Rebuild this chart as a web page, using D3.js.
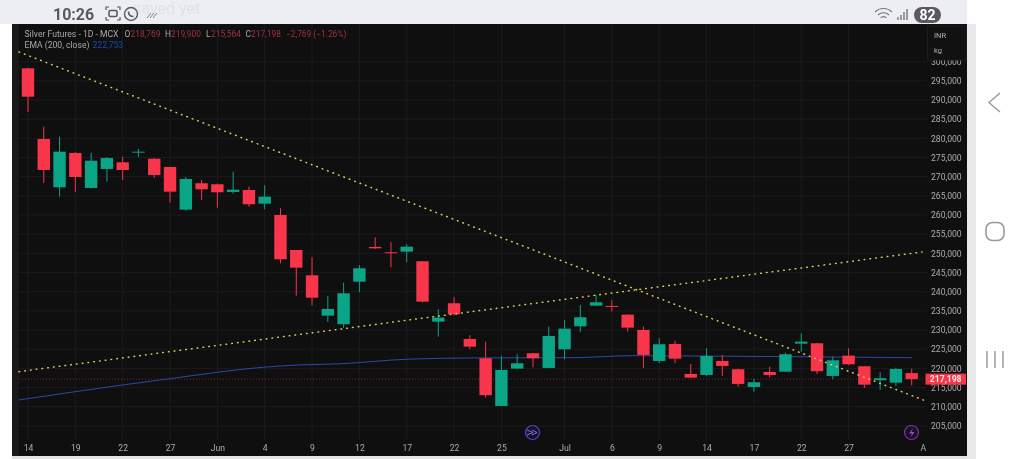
<!DOCTYPE html>
<html>
<head>
<meta charset="utf-8">
<style>
  html, body { margin: 0; padding: 0; background: #fff; overflow: hidden; }
  svg { display: block; font-family: Roboto, sans-serif; filter: blur(0.35px); }
</style>
<script src="https://cdn.jsdelivr.net/npm/d3@7"></script>
</head>
<body>
<div id="chart"></div>
<script>
// Candles, one entry per session
var opens = [298280,279840,267240,276190,267060,272020,273760,276320,274700,272540,261400,268290,268030,266020,266540,262970,260020,250890,244290,233760,231510,242620,251670,250290,250450,247950,232190,236990,227680,222650,210210,219940,223950,220120,224990,230990,236360,236290,234020,230030,221940,226380,218550,218290,221940,219780,215160,219070,219150,226450,226560,218030,223320,220560,216910,216280,218769];
var highs = [298360,283050,280440,276450,276270,275150,275220,277230,274890,272540,269930,269150,268230,271310,267400,267770,261770,250900,248990,238900,242360,246980,254200,252900,252380,248020,235430,238560,228650,226980,223320,223690,224030,230890,232630,236550,239160,237850,234070,230890,227860,227240,221160,225250,223510,219940,217250,220460,224110,229170,226640,223060,225250,220640,218990,220200,219900];
var lows = [286880,268370,264790,266020,266930,268700,269150,275150,269670,263230,261140,263930,261920,265570,262180,261510,247420,238970,236470,232110,230550,239860,251150,246380,247680,237200,228280,233810,225070,212370,210130,219800,220300,220040,222390,229430,236280,234800,229580,220120,221340,221340,217510,218030,218030,215240,213940,217690,219070,224370,218550,217170,220900,214900,214380,215420,215564];
var closes = [290870,271760,276530,269930,274180,274890,271760,276530,270450,266100,269410,266720,265940,266620,262810,264790,248470,246280,238450,235500,239600,246120,251330,250030,251750,237410,233240,234120,225670,213000,219600,221340,222650,228460,230370,233340,237250,236030,230630,223510,226300,222540,217590,223250,220640,215950,216390,218290,223690,226980,219260,222120,221080,215760,217430,219860,217198];

// EMA (200, close), read at the bends of the line
var emaIndex = [-0.57, 6, 9, 14.9, 17.2, 19.8, 24, 28.2, 34.5, 38.3, 41.5, 56];
var emaValues = [211770,215680,217330,220300,220900,221210,222390,222730,222800,223320,223250,222800];

// Dotted trend lines, two ends each
var trendDown = { index: [-0.57, 56.84], value: [302530, 211590] };
var trendUp = { index: [-0.57, 56.65], value: [219150, 250370] };

// Tick labels
var yTicks = d3.range(205000, 300001, 5000);
var xTickIndex = [0,3,6,9,12,15,18,21,24,27,30,34,37,40,43,46,49,52,57];
var xTickLabels = ["14","19","22","27","Jun","4","9","12","17","22","25","Jul","6","9","14","17","22","27","Aug"];
var lastPrice = 217198;

var legendOhlc = [
  { x: 124.5, text: "O", color: "#a8a8a8" }, { x: 130.5, text: "218,769", color: "#a5303e" },
  { x: 165, text: "H", color: "#a8a8a8" }, { x: 171, text: "219,900", color: "#a5303e" },
  { x: 206, text: "L", color: "#a8a8a8" }, { x: 211, text: "215,564", color: "#a5303e" },
  { x: 245.5, text: "C", color: "#a8a8a8" }, { x: 251, text: "217,198", color: "#a5303e" },
  { x: 286, text: "\u22122,769 (\u22121.26%)", color: "#a5303e" }
];

var red = "#f8354a", green = "#0aa487";

var svg = d3.select("#chart").append("svg").attr("width", 1024).attr("height", 459);

var x = d3.scaleLinear().domain([0, 56]).range([28, 911.7]);
var y = d3.scaleLinear().domain([205000, 300000]).range([425.9, 61.7]);

// Page around the chart
svg.append("rect").attr("width", 1024).attr("height", 459).attr("fill", "#ffffff");
svg.append("rect").attr("width", 967).attr("height", 24).attr("fill", "#eceef3");
svg.append("rect").attr("x", 967).attr("y", 24).attr("width", 9).attr("height", 435).attr("fill", "#e8e8e8");
svg.append("rect").attr("x", 12).attr("y", 456).attr("width", 955).attr("height", 3).attr("fill", "#e4e4e4");

// Chart pane
svg.append("rect").attr("x", 12).attr("y", 24).attr("width", 955).attr("height", 432).attr("fill", "#0f0f10");
svg.append("rect").attr("x", 12).attr("y", 24).attr("width", 7).attr("height", 432).attr("fill", "#19191a");

var defs = svg.append("defs");
defs.append("clipPath").attr("id", "plot").append("rect")
  .attr("x", 19).attr("y", 24).attr("width", 908).attr("height", 432);

// Grid
var grid = svg.append("g").attr("clip-path", "url(#plot)");
grid.selectAll(".h").data(yTicks).enter().append("line")
  .attr("x1", 19).attr("x2", 928)
  .attr("y1", d => y(d)).attr("y2", d => y(d))
  .attr("stroke", "#1b1b1c");
grid.selectAll(".v").data(xTickIndex).enter().append("line")
  .attr("x1", d => x(d)).attr("x2", d => x(d))
  .attr("y1", 24).attr("y2", 440)
  .attr("stroke", "#1b1b1c");

var plot = svg.append("g").attr("clip-path", "url(#plot)");

// Last price line
plot.append("line")
  .attr("x1", 19).attr("x2", 928)
  .attr("y1", y(lastPrice)).attr("y2", y(lastPrice))
  .attr("stroke", "#7a2630").attr("stroke-width", 1).attr("stroke-dasharray", "1 2");

// EMA line
var emaLine = d3.line().x(d => x(d[0])).y(d => y(d[1])).curve(d3.curveMonotoneX);
plot.append("path").datum(d3.zip(emaIndex, emaValues)).attr("d", emaLine)
  .attr("fill", "none").attr("stroke", "#2a4aa8").attr("stroke-width", 1);

// Wicks and bodies
var idx = d3.range(opens.length);
function candleColor(i) { return closes[i] >= opens[i] ? green : red; }

plot.selectAll(".wick").data(idx).enter().append("line")
  .attr("x1", i => x(i)).attr("x2", i => x(i))
  .attr("y1", i => y(highs[i])).attr("y2", i => y(lows[i]))
  .attr("stroke", candleColor).attr("stroke-width", 1);

plot.selectAll(".body").data(idx).enter().append("rect")
  .attr("x", i => x(i) - 6.2)
  .attr("width", 12.4)
  .attr("y", i => y(Math.max(opens[i], closes[i])))
  .attr("height", i => Math.max(1, Math.abs(y(opens[i]) - y(closes[i]))))
  .attr("fill", candleColor);

// Trend lines
[trendDown, trendUp].forEach(function (t) {
  svg.append("line")
    .attr("x1", x(t.index[0])).attr("y1", y(t.value[0]))
    .attr("x2", x(t.index[1])).attr("y2", y(t.value[1]))
    .attr("stroke", "#dccf55").attr("stroke-width", 1.5)
    .attr("stroke-linecap", "round").attr("stroke-dasharray", "0.6 5.2");
});

// Axes
var yAxis = d3.axisRight(y).tickValues(yTicks).tickSize(0).tickPadding(0).tickFormat(d3.format(","));
var yg = svg.append("g").attr("transform", "translate(931,0)").call(yAxis);
yg.select(".domain").remove();
yg.selectAll("text").attr("fill", "#adadad").attr("font-size", 8.6).attr("font-family", "Roboto, sans-serif");

var xAxis = d3.axisBottom(x).tickValues(xTickIndex).tickSize(0).tickPadding(0)
  .tickFormat((d, i) => xTickLabels[i]);
var xg = svg.append("g").attr("transform", "translate(0,445)").attr("clip-path", "url(#plot-x)").call(xAxis);
defs.append("clipPath").attr("id", "plot-x").append("rect")
  .attr("x", 12).attr("y", -10).attr("width", 914).attr("height", 30);
xg.select(".domain").remove();
xg.selectAll("text").attr("fill", "#adadad").attr("font-size", 8.6).attr("font-family", "Roboto, sans-serif");

// Currency and unit box over the top of the price axis
svg.append("rect").attr("x", 927.5).attr("y", 26).attr("width", 39).attr("height", 34)
  .attr("fill", "#111112").attr("stroke", "#1e1e20");
svg.append("text").attr("x", 934).attr("y", 37.5).attr("font-size", 7.6).attr("fill", "#b0b0b0").text("INR");
svg.append("text").attr("x", 934).attr("y", 53).attr("font-size", 7.6).attr("fill", "#b0b0b0").text("kg");

// Last price tag
svg.append("rect").attr("x", 925.5).attr("y", y(lastPrice) - 5.5).attr("width", 40.5).attr("height", 11)
  .attr("fill", red);
svg.append("text").attr("x", 945.7).attr("y", y(lastPrice) + 3).attr("text-anchor", "middle")
  .attr("font-size", 8.6).attr("font-weight", 700).attr("fill", "#ffe9ec").text("217,198");

// Legend
svg.append("text").attr("x", 24.5).attr("y", 37).attr("font-size", 8.6).attr("fill", "#a8a8a8")
  .text("Silver Futures - 1D - MCX");
svg.append("g").selectAll("text").data(legendOhlc).enter().append("text")
  .attr("x", d => d.x).attr("y", 37).attr("font-size", 8.4).attr("fill", d => d.color).text(d => d.text);
svg.append("text").attr("x", 24.5).attr("y", 47.5).attr("font-size", 8.6).attr("fill", "#a8a8a8").text("EMA (200, close)");
svg.append("text").attr("x", 92.5).attr("y", 47.5).attr("font-size", 8.6).attr("fill", "#1f49b0").text("222,753");

// Badges under the candles
svg.append("circle").attr("cx", 532.5).attr("cy", 432.5).attr("r", 7)
  .attr("fill", "#16122a").attr("stroke", "#5a3fd0").attr("stroke-width", 1.2);
svg.append("path").attr("d", "M527 430l6 2.5l-6 2.5M532 430l5 2.5l-5 2.5").attr("fill", "none").attr("stroke", "#8f80e8").attr("stroke-width", 0.9);
svg.append("circle").attr("cx", 911.5).attr("cy", 432.5).attr("r", 7)
  .attr("fill", "#1b1026").attr("stroke", "#7d349e").attr("stroke-width", 1.2);
svg.append("path").attr("d", "M913 428l-4 5.5h3l-1.5 4l4-5.5h-3z").attr("fill", "#9a4cc0");

// Phone status bar
svg.append("text").attr("x", 133).attr("y", 14).attr("font-size", 16).attr("fill", "#e0e2e7").text("saved yet");
svg.append("text").attr("x", 53).attr("y", 20).attr("font-size", 16).attr("font-weight", 700).attr("fill", "#5a5a5e").text("10:26");
svg.append("path").attr("d", "M106 10v-3h3M117 7h3v3M120 17v3h-3M109 20h-3v-3").attr("fill", "none").attr("stroke", "#5a5a5e").attr("stroke-width", 1.2);
svg.append("rect").attr("x", 109).attr("y", 10.5).attr("width", 8).attr("height", 6).attr("rx", 1.5).attr("fill", "none").attr("stroke", "#5a5a5e").attr("stroke-width", 1.6);
svg.append("circle").attr("cx", 131).attr("cy", 14).attr("r", 6.5).attr("fill", "none").attr("stroke", "#5a5a5e").attr("stroke-width", 1.4);
svg.append("path").attr("d", "M128.5 11.5c0 3 2 5 5 5").attr("fill", "none").attr("stroke", "#5a5a5e").attr("stroke-width", 1.6);
svg.append("path").attr("d", "M147 18l4 -5M150 18l4 -5M153 18l4 -5").attr("fill", "none").attr("stroke", "#77777b").attr("stroke-width", 0.9);
svg.append("path").attr("d", "M875 12a12 12 0 0 1 17 0M878 15a8 8 0 0 1 11 0M880.5 18a4 4 0 0 1 6 0").attr("fill", "none").attr("stroke", "#77777b").attr("stroke-width", 1.1);
svg.append("path").attr("d", "M898 20v-3M901 20v-5M904 20v-8M907 20v-11").attr("fill", "none").attr("stroke", "#77777b").attr("stroke-width", 1.4);
svg.append("rect").attr("x", 914).attr("y", 7).attr("width", 27).attr("height", 16).attr("rx", 8).attr("fill", "#5a5a5e");
svg.append("text").attr("x", 927.5).attr("y", 20).attr("text-anchor", "middle").attr("font-size", 14).attr("font-weight", 700).attr("fill", "#ffffff").text("82");

// Phone navigation buttons
svg.append("path").attr("d", "M1000 93l-11 9.5l11 9.5").attr("fill", "none").attr("stroke", "#9a9a9a").attr("stroke-width", 1.4);
svg.append("rect").attr("x", 986).attr("y", 222.5).attr("width", 18).attr("height", 18).attr("rx", 6.5).attr("fill", "none").attr("stroke", "#9a9a9a").attr("stroke-width", 1.6);
svg.append("path").attr("d", "M987 351v17M995 351v17M1003 351v17").attr("fill", "none").attr("stroke", "#a2a2a2").attr("stroke-width", 1.6);
</script>
</body>
</html>
